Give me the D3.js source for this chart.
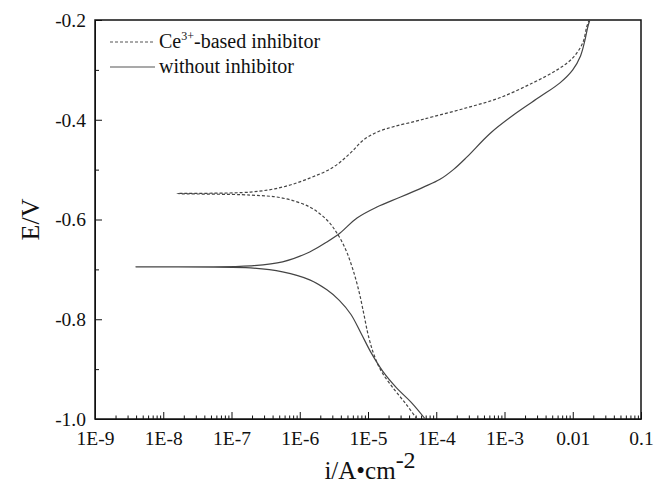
<!DOCTYPE html>
<html>
<head>
<meta charset="utf-8">
<script src="https://cdn.jsdelivr.net/npm/d3@7"></script>
<style>
  body { margin: 0; background: #fff; }
  .axis path, .axis line { stroke: #111; }
</style>
</head>
<body>
<div id="main"></div>
<script>
//data: current density (A/cm2) and potential (V)
//each curve goes from the cathodic end up to Ecorr and out along the anodic branch
const ceCurrent = [5.2e-5, 3.7e-5, 2.4e-5, 1.58e-5, 1.23e-5, 1.02e-5, 8.7e-6, 7.4e-6, 6.0e-6, 4.7e-6, 3.5e-6, 2.5e-6, 1.4e-6, 5.6e-7, 1.9e-7,
                   1.6e-8,
                   1.9e-7, 5.6e-7, 1.4e-6, 3.1e-6, 5.5e-6, 8.5e-6, 1.4e-5, 2.5e-5, 5.0e-5, 8.9e-5, 2.8e-4, 8.5e-4, 2.6e-3, 5.9e-3, 1.0e-2, 1.4e-2, 1.6e-2, 1.74e-2];
const cePotential = [-1.000, -0.972, -0.940, -0.905, -0.872, -0.835, -0.790, -0.745, -0.700, -0.660, -0.627, -0.601, -0.575, -0.557, -0.551,
                     -0.548,
                     -0.545, -0.535, -0.517, -0.495, -0.467, -0.441, -0.424, -0.413, -0.403, -0.394, -0.376, -0.356, -0.326, -0.300, -0.276, -0.246, -0.214, -0.200];

const blankCurrent = [6.9e-5, 4.4e-5, 2.6e-5, 1.66e-5, 1.12e-5, 7.9e-6, 5.6e-6, 3.8e-6, 2.5e-6, 1.4e-6, 5.6e-7, 1.9e-7,
                      4.0e-9,
                      3.5e-8, 1.9e-7, 5.6e-7, 1.4e-6, 2.5e-6, 3.9e-6, 6.9e-6, 1.35e-5, 3.0e-5, 6.5e-5, 1.12e-4, 1.78e-4, 2.8e-4, 6.2e-4, 1.5e-3, 3.3e-3, 6.5e-3, 1.0e-2, 1.3e-2, 1.5e-2, 1.66e-2, 1.78e-2];
const blankPotential = [-1.000, -0.968, -0.937, -0.905, -0.868, -0.828, -0.790, -0.762, -0.741, -0.721, -0.705, -0.697,
                        -0.695,
                        -0.695, -0.693, -0.685, -0.665, -0.645, -0.627, -0.597, -0.575, -0.555, -0.535, -0.520, -0.500, -0.475, -0.427, -0.386, -0.354, -0.326, -0.300, -0.272, -0.242, -0.214, -0.200];

const xTicks = [1e-9, 1e-8, 1e-7, 1e-6, 1e-5, 1e-4, 1e-3, 1e-2, 1e-1];
const xTickLabels = ["1E-9", "1E-8", "1E-7", "1E-6", "1E-5", "1E-4", "1E-3", "0.01", "0.1"];
const yTicks = [-1.0, -0.8, -0.6, -0.4, -0.2];
const yTickLabels = ["-1.0", "-0.8", "-0.6", "-0.4", "-0.2"];
const yMinorTicks = [-0.9, -0.7, -0.5, -0.3];
const seriesNames = ["Ce", "without inhibitor"];

//size of the page and the plot box
var width = 654;
var height = 489;
const margin = {left: 95, right: 13, top: 20, bottom: 70};
const serif = 'Liberation Serif';

function render(){
  const svg = d3.select('#main')
              .append('svg')
              .attr('width', width)
              .attr('height', height);

  //scales
  var xScale = d3.scaleLog().domain([1e-9, 1e-1]).range([margin.left, width - margin.right]);
  var yScale = d3.scaleLinear().domain([-1.0, -0.2]).range([height - margin.bottom, margin.top]);

  //minor tick positions 2..9 in every decade
  var xMinor = [];
  for(var k = 0; k < xTicks.length - 1; k++){
    for(var m = 2; m <= 9; m++) xMinor.push(m * xTicks[k]);
  }

  //x axis, ticks point inward
  var xAxis = d3.axisBottom(xScale).tickValues(xTicks)
      .tickSizeInner(-7).tickSizeOuter(0).tickPadding(12)
      .tickFormat(function(d, i){ return xTickLabels[i]; });
  var gx = svg.append('g').attr('class', 'axis')
      .attr('transform', "translate(0," + yScale(-1.0) + ")")
      .call(xAxis);
  gx.attr('font-family', serif).attr('font-size', 19.5);
  gx.selectAll('text').attr('fill', '#111');
  svg.append('g').attr('class', 'axis')
      .attr('transform', "translate(0," + yScale(-1.0) + ")")
      .call(d3.axisBottom(xScale).tickValues(xMinor).tickSizeInner(-3.5).tickSizeOuter(0).tickFormat(""))
      .select('.domain').remove();

  //y axis
  var yAxis = d3.axisLeft(yScale).tickValues(yTicks)
      .tickSizeInner(-7).tickSizeOuter(0).tickPadding(9)
      .tickFormat(function(d, i){ return yTickLabels[i]; });
  var gy = svg.append('g').attr('class', 'axis')
      .attr('transform', "translate(" + xScale(1e-9) + ",0)")
      .call(yAxis);
  gy.attr('font-family', serif).attr('font-size', 19.5);
  gy.selectAll('text').attr('fill', '#111');
  svg.append('g').attr('class', 'axis')
      .attr('transform', "translate(" + xScale(1e-9) + ",0)")
      .call(d3.axisLeft(yScale).tickValues(yMinorTicks).tickSizeInner(-4).tickSizeOuter(0).tickFormat(""))
      .select('.domain').remove();

  //frame round the plot
  svg.append('rect')
     .attr('x', xScale(1e-9)).attr('y', yScale(-0.2))
     .attr('width', xScale(1e-1) - xScale(1e-9))
     .attr('height', yScale(-1.0) - yScale(-0.2))
     .attr('fill', 'none').attr('stroke', '#111').attr('stroke-width', 1.5);

  //curves
  var line = d3.line()
      .x(function(d){ return xScale(d[0]); })
      .y(function(d){ return yScale(d[1]); })
      .curve(d3.curveCatmullRom.alpha(0.5));

  var ceData = ceCurrent.map(function(c, i){ return [c, cePotential[i]]; });
  var blankData = blankCurrent.map(function(c, i){ return [c, blankPotential[i]]; });

  svg.append('path').datum(ceData)
     .attr('d', line).attr('fill', 'none')
     .attr('stroke', '#444').attr('stroke-width', 1.2)
     .attr('stroke-dasharray', '3,2');

  svg.append('path').datum(blankData)
     .attr('d', line).attr('fill', 'none')
     .attr('stroke', '#444').attr('stroke-width', 1.2);

  //legend
  var legend = svg.append('g').attr('id', 'legend')
                  .attr('font-family', serif).attr('fill', '#111');
  legend.append('line')
        .attr('x1', 110).attr('x2', 155).attr('y1', 42).attr('y2', 42)
        .attr('stroke', '#555').attr('stroke-width', 1.2).attr('stroke-dasharray', '3,2');
  var t1 = legend.append('text').attr('x', 159).attr('y', 48).attr('font-size', 20);
  t1.append('tspan').text(seriesNames[0]);
  t1.append('tspan').attr('dy', -8).attr('font-size', 12).text("3+");
  t1.append('tspan').attr('dy', 8).text("-based inhibitor");

  legend.append('line')
        .attr('x1', 110).attr('x2', 155).attr('y1', 67).attr('y2', 67)
        .attr('stroke', '#555').attr('stroke-width', 1.2);
  legend.append('text').attr('x', 159).attr('y', 73).attr('font-size', 20)
        .text(seriesNames[1]);

  //axis titles
  svg.append('text')
     .attr('transform', 'translate(39,' + yScale(-0.6) + ') rotate(-90)')
     .attr('text-anchor', 'middle').attr('font-family', serif).attr('font-size', 26).attr('fill', '#111')
     .text("E/V");

  var xt = svg.append('text')
     .attr('x', xScale(1e-5) + 2).attr('y', 479)
     .attr('text-anchor', 'middle').attr('font-family', serif).attr('font-size', 25).attr('fill', '#111');
  xt.append('tspan').text("i/A\u2022cm");
  xt.append('tspan').attr('dy', -11).attr('font-size', 24).text("-2");
}

render();
</script>
</body>
</html>
